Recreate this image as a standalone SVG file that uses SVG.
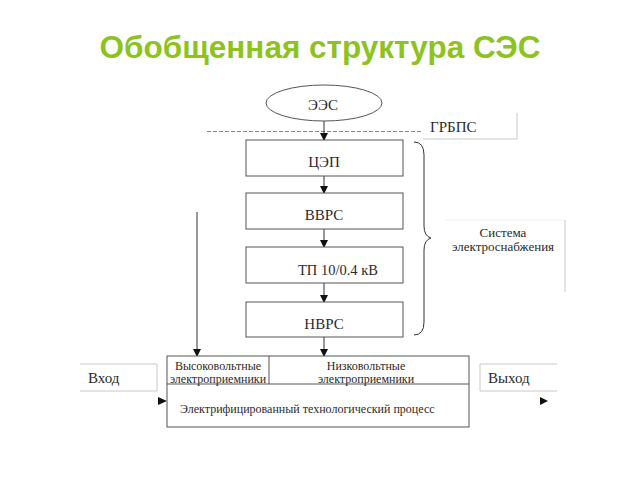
<svg xmlns="http://www.w3.org/2000/svg" width="640" height="480" viewBox="0 0 640 480">
<defs>
<marker id="ah" markerWidth="8" markerHeight="8" refX="7" refY="4" orient="auto" markerUnits="userSpaceOnUse"><path d="M0,0 L8,4 L0,8 Z" fill="#111"/></marker>
<style>
text.t{font-family:'Liberation Serif','Times New Roman',serif;fill:#2a2a2a}
.b{fill:#fff;stroke:#555;stroke-width:1}
.g{fill:none;stroke:#c8c8c8;stroke-width:1}
.c{fill:none;stroke:#333;stroke-width:1}
</style>
</defs>
<rect width="640" height="480" fill="#fff"/>
<text x="320" y="58" text-anchor="middle" font-family="'Liberation Sans',Arial,sans-serif" font-weight="bold" font-size="31.5" fill="#8dc21f">Обобщенная структура СЭС</text>

<g id="connectors">
<line x1="207" y1="131.5" x2="422" y2="131.5" stroke="#888" stroke-dasharray="4,2"/>
<line class="c" x1="324" y1="121" x2="324" y2="140" marker-end="url(#ah)"/>
<line class="c" x1="324" y1="176" x2="324" y2="193" marker-end="url(#ah)"/>
<line class="c" x1="324" y1="229" x2="324" y2="247" marker-end="url(#ah)"/>
<line class="c" x1="324" y1="283" x2="324" y2="302" marker-end="url(#ah)"/>
<line class="c" x1="324" y1="337" x2="324" y2="356" marker-end="url(#ah)"/>
<line class="c" x1="197" y1="212" x2="197" y2="356" marker-end="url(#ah)"/>
<path d="M158,397 L167,401 L158,405 Z" fill="#111"/>
<path d="M540,397 L548,401 L540,405 Z" fill="#111"/>
<path class="c" stroke="#555" d="M414,142 Q424,142 424,155 L424,226 Q424,236 431,238 Q424,240 424,250 L424,322 Q424,335 414,335"/>
</g>

<g id="ees">
<ellipse cx="324" cy="103" rx="58" ry="18" class="b"/>
<text x="323" y="110" text-anchor="middle" font-size="15" class="t">ЭЭС</text>
</g>
<g id="grbps">
<path class="g" d="M517,113 L517,139 L423,139"/>
<text x="430" y="132" font-size="15" class="t">ГРБПС</text>
</g>
<g id="cep">
<rect x="246" y="140" width="157" height="36" class="b"/>
<text x="324" y="167" text-anchor="middle" font-size="15" class="t">ЦЭП</text>
</g>
<g id="vvrs">
<rect x="246" y="193" width="157" height="36" class="b"/>
<text x="324" y="220" text-anchor="middle" font-size="15" class="t">ВВРС</text>
</g>
<g id="tp">
<rect x="246" y="247" width="157" height="36" class="b"/>
<text x="338" y="275" text-anchor="middle" font-size="14.5" class="t">ТП 10/0.4 кВ</text>
</g>
<g id="nvrs">
<rect x="246" y="302" width="157" height="35" class="b"/>
<text x="324" y="329" text-anchor="middle" font-size="15" class="t">НВРС</text>
</g>
<g id="sistema">
<path fill="none" stroke="#f0f0f0" d="M445,220 L565,220"/>
<path class="g" d="M565,220 L565,292"/>
<text x="503" y="237" text-anchor="middle" font-size="13" class="t">Система</text>
<text x="503" y="251" text-anchor="middle" font-size="13" class="t">электроснабжения</text>
</g>
<g id="process">
<rect x="167" y="356" width="302" height="71" class="b"/>
<line x1="167" y1="384" x2="469" y2="384" stroke="#555"/>
<line x1="269" y1="356" x2="269" y2="384" stroke="#555"/>
<text x="218" y="370" text-anchor="middle" font-size="12" class="t">Высоковольтные</text>
<text x="218" y="383" text-anchor="middle" font-size="12" class="t">электроприемники</text>
<text x="366" y="370" text-anchor="middle" font-size="12" class="t">Низковольтные</text>
<text x="366" y="383" text-anchor="middle" font-size="12" class="t">электроприемники</text>
<text x="180" y="413" font-size="12" class="t">Электрифицированный технологический процесс</text>
</g>
<g id="vhod">
<path class="g" d="M80,364 L157,364 L157,391 L80,391"/>
<text x="88" y="383" font-size="15" class="t">Вход</text>
</g>
<g id="vyhod">
<path class="g" d="M557,364 L480,364 L480,391 L557,391"/>
<text x="488" y="383" font-size="15" class="t">Выход</text>
</g>
</svg>
